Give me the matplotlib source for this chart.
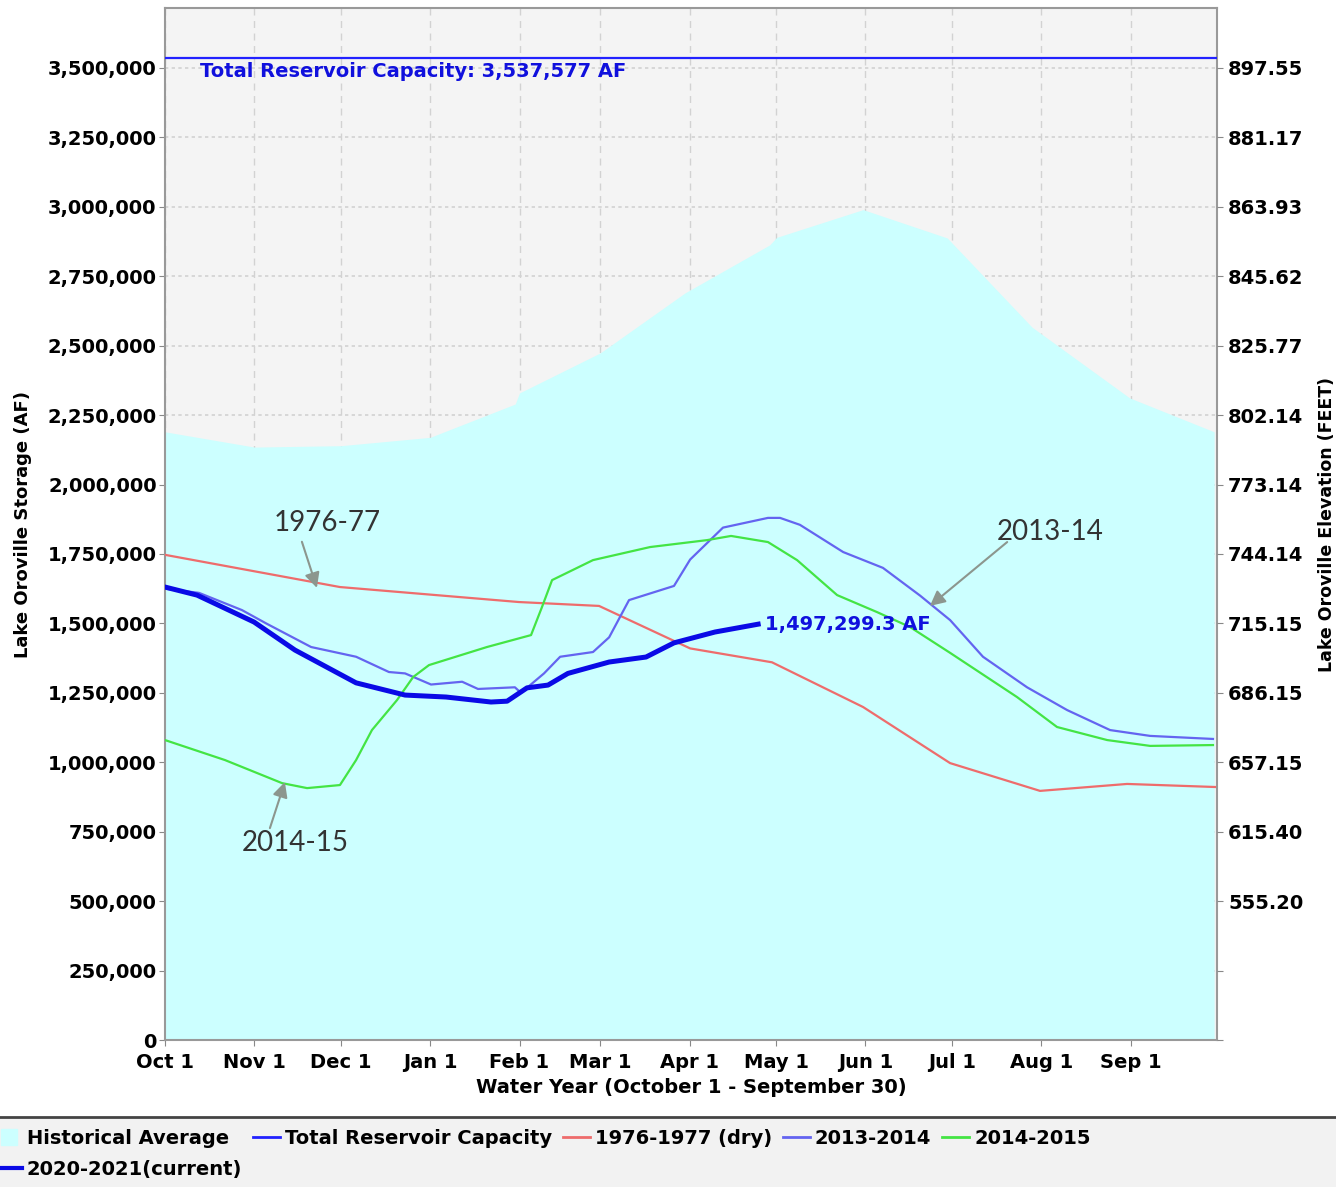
import matplotlib.pyplot as plt
from matplotlib.patches import Rectangle
from matplotlib.lines import Line2D
from matplotlib.ticker import FuncFormatter

# x values are days into the water year (Oct 1 = 0)
month_days = [0, 31, 61, 92, 123, 151, 182, 212, 243, 273, 304, 335]
month_labels = ["Oct 1", "Nov 1", "Dec 1", "Jan 1", "Feb 1", "Mar 1", "Apr 1",
                "May 1", "Jun 1", "Jul 1", "Aug 1", "Sep 1"]

storage_ticks = [0, 250000, 500000, 750000, 1000000, 1250000, 1500000,
                 1750000, 2000000, 2250000, 2500000, 2750000, 3000000,
                 3250000, 3500000]
elev_labels = ["", "", "555.20", "615.40", "657.15", "686.15", "715.15",
               "744.14", "773.14", "802.14", "825.77", "845.62", "863.93",
               "881.17", "897.55"]

capacity = 3537577

hist_days = [0, 31, 61, 92, 121.5, 123, 151, 180.4, 209.8, 212.2, 242.2,
             271.4, 300.8, 334.7, 364]
hist_vals = [2190000, 2135000, 2140000, 2170000, 2290000, 2330000, 2474000,
             2690000, 2863000, 2890000, 2990000, 2888000, 2567000, 2312000,
             2190000]

dry_days = [0, 60.7, 122.8, 150.6, 182.2, 210.6, 242.2, 272.4, 303.6, 333.8, 364.3]
dry_vals = [1747000, 1631000, 1577000, 1563000, 1410000, 1360000, 1199000,
            997000, 897000, 922000, 911000]

y1314_days = [0, 11.8, 26.7, 35.1, 50.7, 66.3, 77.7, 83.3, 92.3, 103.1, 108.6,
              121.4, 123.5, 131.5, 137.1, 148.5, 154.1, 161.0, 176.6, 182.2,
              193.6, 209.2, 213.4, 220.3, 235.3, 249.1, 262.0, 272.4, 283.8,
              299.1, 313.0, 327.9, 341.8, 363.6]
y1314_vals = [1625000, 1610000, 1548000, 1500000, 1415000, 1380000, 1325000,
              1320000, 1280000, 1290000, 1264000, 1270000, 1250000, 1320000,
              1380000, 1397000, 1450000, 1584000, 1635000, 1730000, 1845000,
              1880000, 1880000, 1855000, 1757000, 1700000, 1600000, 1512000,
              1380000, 1270000, 1188000, 1116000, 1095000, 1084000]

y1415_days = [0, 20.8, 40.6, 49.3, 60.7, 66.3, 71.8, 80.5, 86.1, 91.6, 111.7,
              127.0, 130.8, 134.3, 148.5, 168.3, 188.1, 196.4, 209.2, 219.3,
              233.2, 247.0, 258.5, 272.4, 295.6, 309.5, 326.9, 341.8, 363.6]
y1415_vals = [1080000, 1008000, 925000, 907000, 918000, 1008000, 1116000,
              1224000, 1307000, 1350000, 1415000, 1458000, 1559000, 1656000,
              1728000, 1775000, 1800000, 1815000, 1793000, 1728000, 1602000,
              1541000, 1487000, 1394000, 1235000, 1127000, 1080000, 1059000,
              1062000]

cur_days = [0, 11.1, 30.9, 45.1, 66.3, 83.3, 97.5, 113.1, 118.7, 125.6, 132.9,
            139.8, 154.1, 166.9, 176.6, 190.8, 205.8]
cur_vals = [1631000, 1602000, 1505000, 1404000, 1286000, 1242000, 1235000,
            1217000, 1220000, 1268000, 1278000, 1320000, 1361000, 1379000,
            1430000, 1469000, 1497299.3]

fig = plt.figure(figsize=(13.36, 11.87), dpi=100)
fig.patch.set_facecolor("white")
ax = fig.add_axes([165 / 1336, 1 - 1040 / 1187, 1052 / 1336, 1032 / 1187])
ax.set_facecolor("#f4f4f4")

ax.fill_between(hist_days, 0, hist_vals, color="#ccffff", linewidth=0, zorder=1)
ax.axhline(capacity, color="#2222ff", linewidth=1.6, zorder=3)
ax.plot(dry_days, dry_vals, color="#ee6c6c", linewidth=1.6, zorder=3)
ax.plot(y1314_days, y1314_vals, color="#6464f0", linewidth=1.6, zorder=3)
ax.plot(y1415_days, y1415_vals, color="#44e444", linewidth=1.6, zorder=3)
ax.plot(cur_days, cur_vals, color="#0a0ae6", linewidth=3.6, zorder=4)

ax.set_xlim(0, 365)
ax.set_ylim(0, 3716000)
ax.set_xticks(month_days)
ax.set_xticklabels(month_labels, fontsize=14, fontweight="bold")
ax.set_yticks(storage_ticks)
ax.yaxis.set_major_formatter(FuncFormatter(lambda v, p: f"{int(v):,}"))
for lbl in ax.get_yticklabels():
    lbl.set_fontsize(14)
    lbl.set_fontweight("bold")
ax.tick_params(axis="y", direction="out", length=4, color="#888888", pad=2)
ax.tick_params(axis="x", direction="out", length=4, color="#888888", pad=5)

ax.grid(axis="x", color="#d2d2d2", linestyle=(0, (5, 4)), linewidth=1, zorder=0)
ax.grid(axis="y", color="#d2d2d2", linestyle=(0, (2, 2)), linewidth=1.2, zorder=0)
ax.set_axisbelow(True)
for s in ax.spines.values():
    s.set_color("#999999")
    s.set_linewidth(1.5)

ax.set_xlabel("Water Year (October 1 - September 30)", fontsize=14,
              fontweight="bold", labelpad=5)
ax.set_ylabel("Lake Oroville Storage (AF)", fontsize=13, fontweight="bold",
              labelpad=11)

ax2 = ax.twinx()
ax2.set_ylim(ax.get_ylim())
ax2.set_yticks(storage_ticks)
ax2.set_yticklabels(elev_labels, fontsize=14, fontweight="bold")
ax2.tick_params(axis="y", direction="out", length=4, color="#888888", pad=4)
for s in ax2.spines.values():
    s.set_visible(False)
ax2.set_ylabel("Lake Oroville Elevation (FEET)", fontsize=12.5,
               fontweight="bold", labelpad=10)

ax.text(12.1, capacity - 15000, "Total Reservoir Capacity: 3,537,577 AF",
        color="#1010dd", fontsize=14, fontweight="bold", va="top", ha="left",
        zorder=5)
ax.text(cur_days[-1] + 2.5, cur_vals[-1], "1,497,299.3 AF", color="#1010dd",
        fontsize=14, fontweight="bold", va="center", ha="left", zorder=5)

arrow = dict(arrowstyle="-|>,head_length=0.9,head_width=0.45", color="#8c968e",
             linewidth=1.5, shrinkA=0, shrinkB=0)
ax.annotate("", xy=(52.7, 1628000), xytext=(47.5, 1794000), arrowprops=arrow, zorder=6)
ax.text(56.2, 1862000, "1976-77", fontsize=20, family="Lato", color="#333333",
        ha="center", va="center", zorder=6)
ax.annotate("", xy=(41.6, 929000), xytext=(36.4, 763000), arrowprops=arrow, zorder=6)
ax.text(45.1, 709000, "2014-15", fontsize=20, family="Lato", color="#333333",
        ha="center", va="center", zorder=6)
ax.annotate("", xy=(265.4, 1563000), xytext=(292.2, 1793000), arrowprops=arrow, zorder=6)
ax.text(307, 1829000, "2013-14", fontsize=20, family="Lato", color="#333333",
        ha="center", va="center", zorder=6)

# legend strip at the bottom
fig.patches.append(Rectangle((0, 0), 1, 1 - 1117 / 1187, transform=fig.transFigure,
                             facecolor="#f2f2f2", edgecolor="none", zorder=0))
fig.lines.append(Line2D([0, 1], [1 - 1117 / 1187] * 2, transform=fig.transFigure,
                        color="#444444", linewidth=2))

handles = [
    Line2D([], [], marker="s", color="#ccffff", linestyle="none", markersize=11),
    Line2D([], [], color="#0a0ae6", linewidth=3),
    Line2D([], [], color="#2222ff", linewidth=2),
    Line2D([], [], color="#ee6c6c", linewidth=2),
    Line2D([], [], color="#6464f0", linewidth=2),
    Line2D([], [], color="#44e444", linewidth=2),
]
names = ["Historical Average", "2020-2021(current)", "Total Reservoir Capacity",
         "1976-1977 (dry)", "2013-2014", "2014-2015"]
leg = fig.legend(handles, names, ncol=5, loc="upper left",
                 bbox_to_anchor=(-0.014, 1 - 1115 / 1187), frameon=False,
                 prop={"weight": "bold", "size": 14}, handlelength=1.4,
                 handletextpad=0.25, columnspacing=0.55, labelspacing=0.65,
                 borderpad=0.2)

fig.savefig("out.png", dpi=100)
